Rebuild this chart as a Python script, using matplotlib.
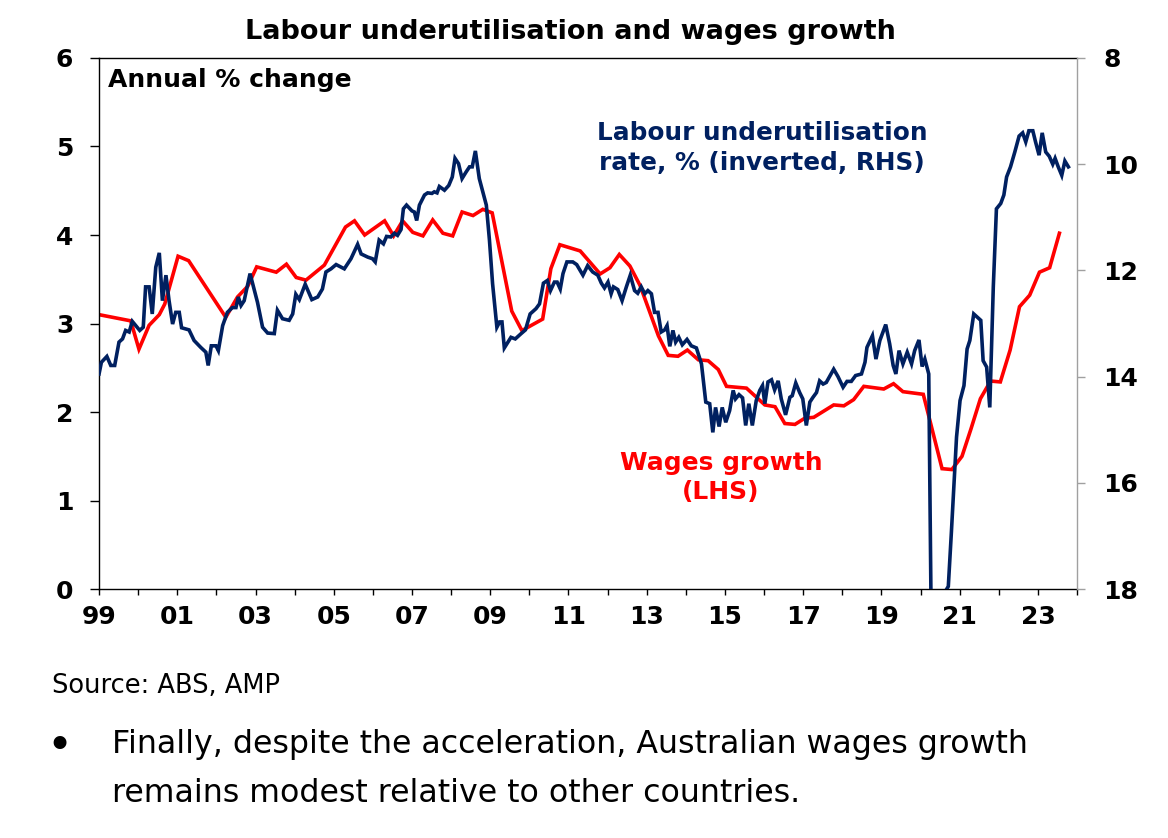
"""
Labour underutilisation (inverted, RHS) vs wages growth (LHS)
"""

import matplotlib

matplotlib.use("Agg")
import matplotlib.pyplot as plt

NAVY = "#002060"
RED = "#FF0000"
GREY = "#A0A0A0"
TICK_SIZE = 18

# wage price index, annual % change (quarterly, decimal years)
wage_dates = [
    1999.00, 1999.81, 2000.02, 2000.28, 2000.54, 2000.68, 2001.02, 2001.29,
    2002.24, 2002.54, 2002.80, 2003.03, 2003.53, 2003.79, 2004.04, 2004.29,
    2004.76, 2005.30, 2005.53, 2005.79, 2006.30, 2006.53, 2006.76, 2007.02,
    2007.28, 2007.53, 2007.79, 2008.04, 2008.28, 2008.56, 2008.81, 2009.05,
    2009.55, 2009.81, 2010.34, 2010.55, 2010.78, 2011.30, 2011.81, 2012.06,
    2012.30, 2012.57, 2012.83, 2013.30, 2013.55, 2013.80, 2014.04, 2014.32,
    2014.57, 2014.83, 2015.04, 2015.55, 2016.02, 2016.28, 2016.53, 2016.79,
    2017.04, 2017.27, 2017.78, 2018.04, 2018.29, 2018.55, 2019.06, 2019.31,
    2019.55, 2020.07, 2020.55, 2020.80, 2021.06, 2021.29, 2021.53, 2021.79,
    2022.04, 2022.29, 2022.53, 2022.79, 2023.04, 2023.30, 2023.55,
]
wage_growth = [
    3.10, 3.03, 2.71, 2.98, 3.10, 3.22, 3.76, 3.71,
    3.07, 3.30, 3.42, 3.64, 3.58, 3.67, 3.52, 3.49,
    3.66, 4.09, 4.16, 4.00, 4.16, 3.99, 4.16, 4.03,
    3.99, 4.17, 4.02, 3.99, 4.26, 4.22, 4.29, 4.25,
    3.14, 2.92, 3.05, 3.62, 3.89, 3.82, 3.56, 3.63,
    3.78, 3.65, 3.43, 2.86, 2.64, 2.63, 2.70, 2.59,
    2.58, 2.48, 2.29, 2.27, 2.08, 2.06, 1.87, 1.86,
    1.93, 1.94, 2.08, 2.07, 2.14, 2.29, 2.26, 2.32,
    2.23, 2.20, 1.36, 1.35, 1.50, 1.81, 2.15, 2.35,
    2.34, 2.70, 3.19, 3.32, 3.58, 3.63, 4.02,
]

# labour underutilisation rate, % (monthly, decimal years)
under_dates = [
    1999.00, 1999.06, 1999.20, 1999.30, 1999.40, 1999.51, 1999.60, 1999.68,
    1999.77, 1999.85, 1999.94, 2000.04, 2000.13, 2000.19, 2000.28, 2000.36,
    2000.45, 2000.54, 2000.62, 2000.71, 2000.79, 2000.88, 2000.96, 2001.05,
    2001.11, 2001.30, 2001.43, 2001.60, 2001.73, 2001.79, 2001.87, 2001.99,
    2002.05, 2002.16, 2002.28, 2002.41, 2002.50, 2002.56, 2002.63, 2002.71,
    2002.86, 2003.05, 2003.18, 2003.31, 2003.48, 2003.56, 2003.69, 2003.86,
    2003.95, 2004.03, 2004.12, 2004.27, 2004.44, 2004.59, 2004.71, 2004.80,
    2004.93, 2005.06, 2005.27, 2005.44, 2005.61, 2005.70, 2005.87, 2005.99,
    2006.06, 2006.16, 2006.27, 2006.35, 2006.46, 2006.55, 2006.63, 2006.72,
    2006.78, 2006.86, 2007.00, 2007.06, 2007.12, 2007.19, 2007.32, 2007.40,
    2007.51, 2007.57, 2007.64, 2007.70, 2007.83, 2007.94, 2008.03, 2008.10,
    2008.19, 2008.28, 2008.38, 2008.47, 2008.54, 2008.62, 2008.72, 2008.90,
    2008.98, 2009.06, 2009.17, 2009.24, 2009.30, 2009.36, 2009.53, 2009.64,
    2009.79, 2009.90, 2010.02, 2010.17, 2010.26, 2010.36, 2010.46, 2010.54,
    2010.64, 2010.71, 2010.79, 2010.86, 2010.96, 2011.11, 2011.21, 2011.37,
    2011.49, 2011.62, 2011.75, 2011.84, 2011.92, 2012.01, 2012.09, 2012.15,
    2012.26, 2012.37, 2012.48, 2012.58, 2012.69, 2012.77, 2012.86, 2012.95,
    2013.03, 2013.12, 2013.20, 2013.29, 2013.37, 2013.46, 2013.52, 2013.59,
    2013.67, 2013.74, 2013.82, 2013.91, 2014.03, 2014.14, 2014.27, 2014.40,
    2014.51, 2014.61, 2014.69, 2014.76, 2014.85, 2014.93, 2015.02, 2015.12,
    2015.21, 2015.27, 2015.36, 2015.45, 2015.53, 2015.61, 2015.70, 2015.80,
    2015.89, 2015.96, 2016.02, 2016.10, 2016.19, 2016.27, 2016.36, 2016.44,
    2016.55, 2016.66, 2016.72, 2016.81, 2016.91, 2016.99, 2017.08, 2017.17,
    2017.25, 2017.34, 2017.42, 2017.51, 2017.59, 2017.78, 2017.89, 2018.02,
    2018.12, 2018.23, 2018.34, 2018.49, 2018.58, 2018.63, 2018.77, 2018.86,
    2018.96, 2019.11, 2019.21, 2019.30, 2019.37, 2019.45, 2019.55, 2019.66,
    2019.77, 2019.85, 2019.96, 2020.04, 2020.11, 2020.21, 2020.29, 2020.38,
    2020.47, 2020.56, 2020.63, 2020.71, 2020.79, 2020.92, 2021.01, 2021.11,
    2021.19, 2021.26, 2021.36, 2021.45, 2021.54, 2021.60, 2021.69, 2021.77,
    2021.86, 2021.94, 2022.05, 2022.13, 2022.20, 2022.30, 2022.41, 2022.52,
    2022.61, 2022.69, 2022.77, 2022.87, 2022.94, 2023.03, 2023.11, 2023.20,
    2023.29, 2023.38, 2023.44, 2023.52, 2023.61, 2023.69, 2023.78,
]
under_rate = [
    13.95, 13.73, 13.62, 13.79, 13.79, 13.35, 13.29, 13.13,
    13.16, 12.96, 13.04, 13.13, 13.07, 12.31, 12.31, 12.82,
    11.94, 11.67, 12.57, 12.09, 12.57, 13.01, 12.79, 12.79,
    13.08, 13.12, 13.32, 13.45, 13.54, 13.79, 13.42, 13.42,
    13.51, 13.04, 12.79, 12.70, 12.70, 12.50, 12.66, 12.57,
    12.06, 12.60, 13.07, 13.18, 13.19, 12.75, 12.91, 12.94,
    12.82, 12.45, 12.55, 12.26, 12.55, 12.50, 12.35, 12.03,
    11.97, 11.89, 11.97, 11.78, 11.51, 11.69, 11.75, 11.78,
    11.84, 11.43, 11.50, 11.36, 11.37, 11.30, 11.34, 11.23,
    10.84, 10.77, 10.88, 10.90, 11.06, 10.77, 10.58, 10.54,
    10.55, 10.52, 10.54, 10.42, 10.49, 10.40, 10.24, 9.89,
    9.99, 10.27, 10.15, 10.05, 10.05, 9.75, 10.27, 10.77,
    11.43, 12.25, 13.07, 12.97, 12.97, 13.46, 13.26, 13.29,
    13.19, 13.12, 12.82, 12.72, 12.63, 12.24, 12.19, 12.38,
    12.22, 12.22, 12.35, 12.06, 11.84, 11.84, 11.89, 12.09,
    11.91, 12.03, 12.09, 12.24, 12.33, 12.22, 12.44, 12.31,
    12.36, 12.57, 12.31, 12.09, 12.38, 12.43, 12.31, 12.44,
    12.38, 12.44, 12.79, 12.79, 13.16, 13.12, 13.04, 13.43,
    13.13, 13.35, 13.26, 13.40, 13.30, 13.42, 13.46, 13.76,
    14.48, 14.51, 15.05, 14.58, 14.94, 14.58, 14.86, 14.64,
    14.26, 14.42, 14.34, 14.40, 14.92, 14.51, 14.92, 14.45,
    14.26, 14.17, 14.51, 14.10, 14.06, 14.25, 14.08, 14.42,
    14.72, 14.39, 14.36, 14.12, 14.30, 14.42, 14.92, 14.48,
    14.39, 14.30, 14.08, 14.14, 14.11, 13.86, 14.00, 14.20,
    14.09, 14.09, 13.98, 13.95, 13.73, 13.45, 13.23, 13.67,
    13.32, 13.02, 13.38, 13.79, 13.95, 13.51, 13.76, 13.54,
    13.76, 13.51, 13.31, 13.81, 13.67, 13.95, 19.90, 19.80,
    19.20, 18.60, 18.05, 17.95, 16.91, 15.14, 14.45, 14.17,
    13.48, 13.32, 12.82, 12.88, 12.94, 13.70, 13.82, 14.58,
    12.31, 10.84, 10.74, 10.58, 10.24, 10.05, 9.77, 9.47,
    9.41, 9.58, 9.37, 9.37, 9.58, 9.83, 9.41, 9.77,
    9.85, 10.00, 9.89, 10.05, 10.21, 9.94, 10.05,
]

label_years = [1999, 2001, 2003, 2005, 2007, 2009, 2011, 2013, 2015, 2017, 2019, 2021, 2023]
year_labels = ["99", "01", "03", "05", "07", "09", "11", "13", "15", "17", "19", "21", "23"]
left_ticks = [0, 1, 2, 3, 4, 5, 6]
right_ticks = [8, 10, 12, 14, 16, 18]

bullet_lines = [
    "Finally, despite the acceleration, Australian wages growth",
    "remains modest relative to other countries.",
]

fig = plt.figure(figsize=(11.68, 8.38), dpi=100)
ax = fig.add_axes([0.0848, 0.2971, 0.8373, 0.6337])
ax2 = ax.twinx()

ax.plot(wage_dates, wage_growth, color=RED, lw=2.6, solid_joinstyle="miter")
ax2.plot(under_dates, under_rate, color=NAVY, lw=2.6, solid_joinstyle="miter")

ax.set_xlim(1999, 2024)
ax.set_ylim(0, 6)
ax2.set_ylim(18, 8)

# x ticks every year, labels every second year
ax.set_xticks(label_years, labels=year_labels)
ax.set_xticks(range(2000, 2025, 2), minor=True)
ax.tick_params(axis="x", which="both", direction="out", length=4.5, width=1, pad=7)
ax.set_yticks(left_ticks)
ax.tick_params(axis="y", direction="out", length=6.5, width=1, pad=12)
ax2.set_yticks(right_ticks)
ax2.tick_params(axis="y", direction="out", length=6, width=1, pad=13,
                color=GREY, labelcolor="black")

for lab in ax.get_xticklabels() + ax.get_yticklabels() + ax2.get_yticklabels():
    lab.set_fontsize(TICK_SIZE)
    lab.set_fontweight("bold")

# spines: black left/bottom/top, grey right
ax.spines["right"].set_visible(False)
for side in ["left", "bottom", "top"]:
    ax.spines[side].set_linewidth(1)
    ax2.spines[side].set_visible(False)
ax2.spines["right"].set_color(GREY)
ax2.spines["right"].set_linewidth(1)

fig.text(0.4885, 0.9618, "Labour underutilisation and wages growth",
         ha="center", va="center", fontsize=19.5, fontweight="bold")
fig.text(0.0925, 0.9045, "Annual % change", ha="left", va="center",
         fontsize=18, fontweight="bold")
fig.text(0.6524, 0.8234, "Labour underutilisation\nrate, % (inverted, RHS)",
         ha="center", va="center", fontsize=17.8, fontweight="bold",
         color=NAVY, linespacing=1.3)
fig.text(0.6173, 0.4302, "Wages growth\n(LHS)", ha="center", va="center",
         fontsize=18, fontweight="bold", color=RED, linespacing=1.25)

fig.text(0.0445, 0.173, "Source: ABS, AMP", ha="left", va="baseline", fontsize=18.5)
fig.text(0.0505, 0.094, "\u2022", ha="center", va="baseline", fontsize=32)
fig.text(0.0959, 0.1014, bullet_lines[0], ha="left", va="baseline", fontsize=22.8)
fig.text(0.0959, 0.0430, bullet_lines[1], ha="left", va="baseline", fontsize=22.8)

fig.savefig("out.png", dpi=100)
plt.close(fig)
